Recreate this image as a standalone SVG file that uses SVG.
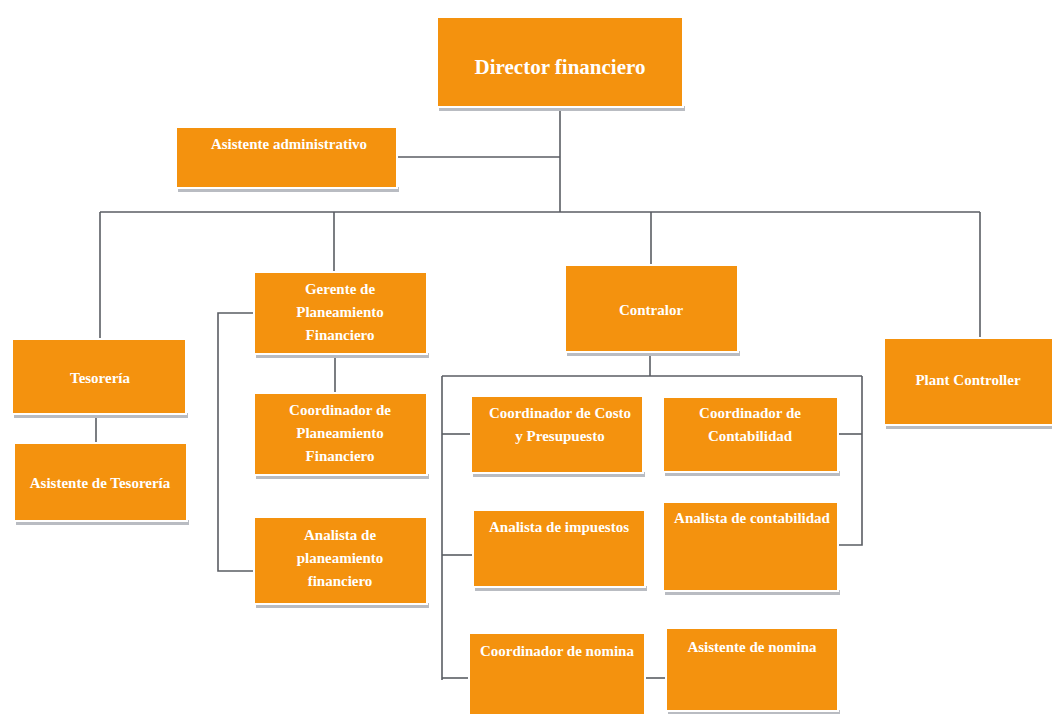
<svg xmlns="http://www.w3.org/2000/svg" width="1052" height="714" viewBox="0 0 1052 714">
  <style>
    .box { fill: #F4920E; stroke: #ffffff; stroke-width: 2; }
    .shadow { fill: #b9bcc2; }
    .lbl { font-family: "Liberation Serif", "Times New Roman", serif; font-weight: bold; font-size: 15px; fill: #ffffff; text-anchor: middle; }
    .big { font-size: 21px; }
    .wire { fill: none; stroke: #5a5d63; stroke-width: 1.6; }
  </style>
  <rect width="1052" height="714" fill="#ffffff"/>

  <!-- connectors -->
  <g id="connectors" class="wire">
    <path d="M560 107 V212"/>
    <path d="M397 157 H560"/>
    <path d="M100 212 H980"/>
    <path d="M100 212 V339"/>
    <path d="M334 212 V272"/>
    <path d="M651 212 V265"/>
    <path d="M980 212 V338"/>
    <path d="M96 414 V443"/>
    <path d="M335 354 V393"/>
    <path d="M254 313 H218 V571 H254"/>
    <path d="M650 352 V376"/>
    <path d="M442 376 H862"/>
    <path d="M442 376 V680"/>
    <path d="M442 434 H471"/>
    <path d="M442 555 H473"/>
    <path d="M442 678 H469"/>
    <path d="M645 678 H666"/>
    <path d="M862 376 V545 H838"/>
    <path d="M838 434 H862"/>
  </g>

  <g id="director">
    <rect class="shadow" x="439" y="106" width="246" height="5"/>
    <rect class="box" x="437" y="17" width="246" height="90"/>
    <text class="lbl big" x="560" y="74">Director financiero</text>
  </g>

  <g id="asistente-admin">
    <rect class="shadow" x="178" y="187" width="221" height="5"/>
    <rect class="box" x="176" y="127" width="221" height="61"/>
    <text class="lbl" x="289" y="149">Asistente administrativo</text>
  </g>

  <g id="tesoreria">
    <rect class="shadow" x="14" y="413" width="174" height="5"/>
    <rect class="box" x="12" y="339" width="174" height="75"/>
    <text class="lbl" x="100" y="383">Tesorería</text>
  </g>

  <g id="asistente-tesoreria">
    <rect class="shadow" x="16" y="520" width="173" height="5"/>
    <rect class="box" x="14" y="443" width="173" height="78"/>
    <text class="lbl" x="100" y="488">Asistente de Tesorería</text>
  </g>

  <g id="gerente-planeamiento">
    <rect class="shadow" x="256" y="353" width="173" height="5"/>
    <rect class="box" x="254" y="272" width="173" height="82"/>
    <text class="lbl" x="340" y="294">Gerente de</text>
    <text class="lbl" x="340" y="317">Planeamiento</text>
    <text class="lbl" x="340" y="340">Financiero</text>
  </g>

  <g id="coordinador-planeamiento">
    <rect class="shadow" x="256" y="474" width="173" height="5"/>
    <rect class="box" x="254" y="393" width="173" height="82"/>
    <text class="lbl" x="340" y="415">Coordinador de</text>
    <text class="lbl" x="340" y="438">Planeamiento</text>
    <text class="lbl" x="340" y="461">Financiero</text>
  </g>

  <g id="analista-planeamiento">
    <rect class="shadow" x="256" y="603" width="173" height="5"/>
    <rect class="box" x="254" y="517" width="173" height="87"/>
    <text class="lbl" x="340" y="540">Analista de</text>
    <text class="lbl" x="340" y="563">planeamiento</text>
    <text class="lbl" x="340" y="586">financiero</text>
  </g>

  <g id="contralor">
    <rect class="shadow" x="567" y="351" width="173" height="5"/>
    <rect class="box" x="565" y="265" width="173" height="87"/>
    <text class="lbl" x="651" y="315">Contralor</text>
  </g>

  <g id="plant-controller">
    <rect class="shadow" x="886" y="424" width="168" height="5"/>
    <rect class="box" x="884" y="338" width="170" height="87"/>
    <text class="lbl" x="968" y="385">Plant Controller</text>
  </g>

  <g id="coordinador-costo">
    <rect class="shadow" x="473" y="472" width="172" height="5"/>
    <rect class="box" x="471" y="396" width="172" height="77"/>
    <text class="lbl" x="560" y="418">Coordinador de Costo</text>
    <text class="lbl" x="560" y="441">y Presupuesto</text>
  </g>

  <g id="coordinador-contabilidad">
    <rect class="shadow" x="665" y="471" width="175" height="5"/>
    <rect class="box" x="663" y="397" width="175" height="75"/>
    <text class="lbl" x="750" y="418">Coordinador de</text>
    <text class="lbl" x="750" y="441">Contabilidad</text>
  </g>

  <g id="analista-impuestos">
    <rect class="shadow" x="475" y="586" width="172" height="5"/>
    <rect class="box" x="473" y="510" width="172" height="77"/>
    <text class="lbl" x="559" y="532">Analista de impuestos</text>
  </g>

  <g id="analista-contabilidad">
    <rect class="shadow" x="665" y="590" width="175" height="5"/>
    <rect class="box" x="663" y="502" width="175" height="89"/>
    <text class="lbl" x="752" y="523">Analista de contabilidad</text>
  </g>

  <g id="coordinador-nomina">
    <rect class="box" x="469" y="633" width="176" height="84"/>
    <text class="lbl" x="557" y="656">Coordinador de nomina</text>
  </g>

  <g id="asistente-nomina">
    <rect class="shadow" x="668" y="710" width="172" height="5"/>
    <rect class="box" x="666" y="628" width="172" height="83"/>
    <text class="lbl" x="752" y="652">Asistente de nomina</text>
  </g>
</svg>
